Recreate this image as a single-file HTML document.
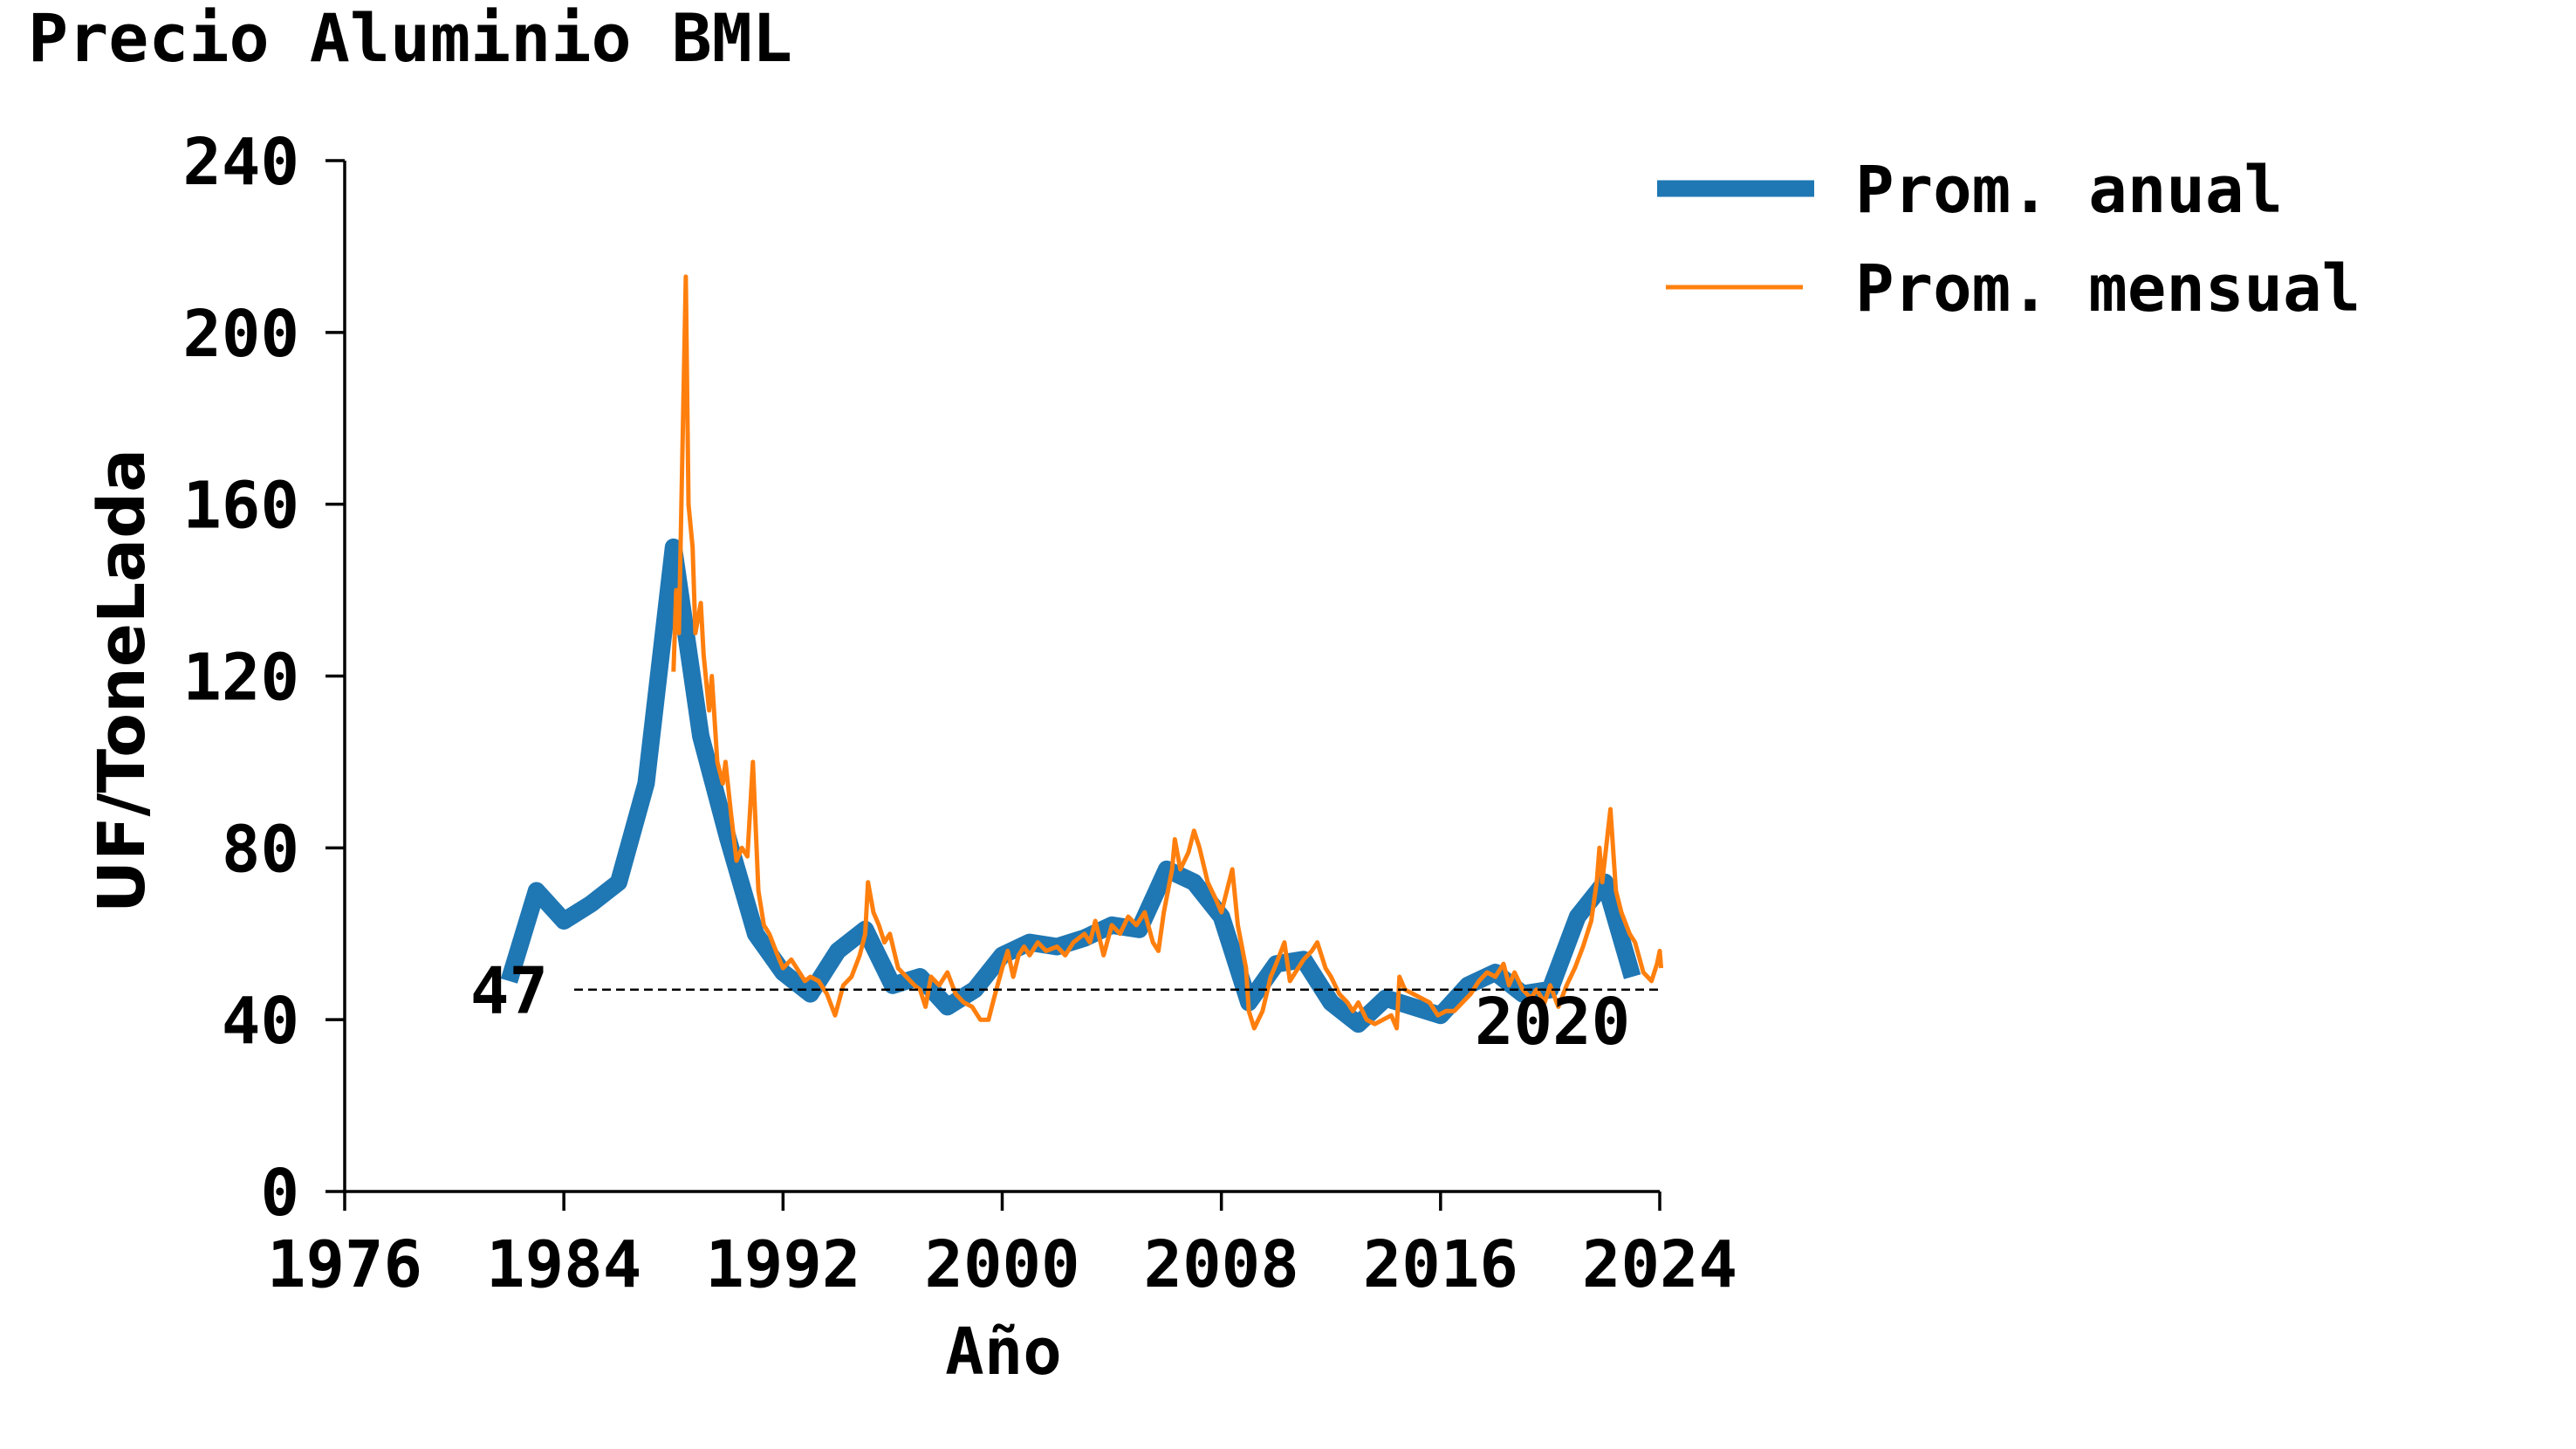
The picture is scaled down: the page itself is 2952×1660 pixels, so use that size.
<!DOCTYPE html>
<html><head><meta charset="utf-8"><style>
html,body{margin:0;padding:0;background:#fff;}
svg{display:block;}
text{font-family:"DejaVu Sans Mono","Liberation Mono",monospace;font-weight:bold;fill:#000;}
</style></head><body>
<svg id="chart" width="2952" height="1660" viewBox="0 0 2952 1660" xmlns="http://www.w3.org/2000/svg">
<text x="32" y="70" font-size="76" textLength="876" lengthAdjust="spacingAndGlyphs">Precio Aluminio BML</text>
<g id="axes"></g>
<g id="series"></g>
<text x="1150" y="1574" font-size="74" text-anchor="middle">Año</text>
<text transform="translate(165,780) rotate(-90)" font-size="74" text-anchor="middle" style="font-family:'DejaVu Sans','Liberation Sans',sans-serif">UF/ToneLada</text>
<g>
<line x1="1899" y1="216" x2="2079" y2="216" stroke="#1f77b4" stroke-width="19"/>
<text x="2126" y="243" font-size="74">Prom. anual</text>
<line x1="1909" y1="329" x2="2066" y2="329" stroke="#ff7f0e" stroke-width="5"/>
<text x="2126" y="356" font-size="74">Prom. mensual</text>
</g>
</svg>
<script>
const xTicks = [1976, 1984, 1992, 2000, 2008, 2016, 2024];
const yTicks = [0, 40, 80, 120, 160, 200, 240];
const annualYears = [1982,1983,1984,1985,1986,1987,1988,1989,1990,1991,1992,1993,1994,1995,1996,1997,1998,1999,2000,2001,2002,2003,2004,2005,2006,2007,2008,2009,2010,2011,2012,2013,2014,2015,2016,2017,2018,2019,2020,2021,2022,2023];
const annualValues = [49,70,63,67,72,95,150,106,82,60,51,46,56,61,48,50,43,47,55,58,57,59,62,61,75,72,64,44,53,54,44,39,45,43,41,48,51,46,47,64,72,50];
const monthlyYears = [1988.0,1988.1,1988.2,1988.45,1988.55,1988.7,1988.8,1989.0,1989.1,1989.3,1989.4,1989.6,1989.8,1989.9,1990.1,1990.3,1990.5,1990.7,1990.9,1991.1,1991.3,1991.5,1991.8,1992.0,1992.3,1992.5,1992.8,1993.0,1993.3,1993.6,1993.9,1994.2,1994.5,1994.8,1995.0,1995.1,1995.3,1995.5,1995.7,1995.9,1996.2,1996.5,1996.8,1997.0,1997.2,1997.4,1997.7,1998.0,1998.3,1998.6,1998.9,1999.2,1999.5,1999.7,2000.0,2000.2,2000.4,2000.6,2000.8,2001.0,2001.3,2001.6,2002.0,2002.3,2002.6,2003.0,2003.2,2003.4,2003.7,2004.0,2004.3,2004.6,2004.9,2005.2,2005.5,2005.7,2005.9,2006.2,2006.3,2006.5,2006.8,2007.0,2007.2,2007.5,2007.8,2008.0,2008.2,2008.4,2008.6,2008.9,2009.0,2009.2,2009.5,2009.8,2010.0,2010.3,2010.5,2010.8,2011.0,2011.3,2011.5,2011.8,2012.0,2012.3,2012.6,2012.8,2013.0,2013.3,2013.6,2013.9,2014.2,2014.4,2014.5,2014.7,2015.0,2015.3,2015.6,2015.9,2016.2,2016.5,2016.8,2017.1,2017.4,2017.7,2018.0,2018.3,2018.5,2018.7,2019.0,2019.3,2019.5,2019.8,2020.0,2020.3,2020.6,2020.9,2021.2,2021.5,2021.7,2021.8,2021.9,2022.2,2022.4,2022.6,2022.9,2023.1,2023.4,2023.7,2023.9,2024.0,2024.05];
const monthlyValues = [121,140,130,213,160,150,130,137,125,112,120,100,95,100,88,77,80,78,100,70,62,60,55,52,54,52,49,50,49,46,41,48,50,55,60,72,65,62,58,60,52,50,48,47,43,50,48,51,46,44,43,40,40,45,52,56,50,55,57,55,58,56,57,55,58,60,58,63,55,62,60,64,62,65,58,56,65,75,82,75,79,84,80,72,68,65,70,75,62,52,42,38,42,50,53,58,49,52,54,56,58,52,50,46,44,42,44,40,39,40,41,38,50,47,46,45,44,41,42,42,44,46,49,51,50,53,48,51,47,45,47,44,48,43,48,52,57,63,72,80,72,89,70,65,60,58,51,49,53,56,52];
const refValue = 47;
const refLabel = "2020";

const X0 = 395, X1 = 1902, Y0 = 1365, Y1 = 184;
const xMin = 1976, xMax = 2024, yMin = 0, yMax = 240;
function sx(v){ return X0 + (v - xMin) / (xMax - xMin) * (X1 - X0); }
function sy(v){ return Y0 - (v - yMin) / (yMax - yMin) * (Y0 - Y1); }
const NS = "http://www.w3.org/2000/svg";
function mk(tag, attrs, parent){
  const el = document.createElementNS(NS, tag);
  for (const k in attrs) el.setAttribute(k, attrs[k]);
  parent.appendChild(el);
  return el;
}
const axes = document.getElementById('axes');
const series = document.getElementById('series');

const yAxis = mk('line', {x1:X0, y1:Y1, x2:X0, y2:Y0+2, stroke:'#000', 'stroke-width':3.5}, axes);


const xAxis = mk('line', {x1:X0-2, y1:Y0, x2:X1, y2:Y0, stroke:'#000', 'stroke-width':3.5}, axes);



xTicks.forEach(t => {
  const tk = mk('line', {x1:sx(t), y1:Y0, x2:sx(t), y2:Y0+22, stroke:'#000', 'stroke-width':3.5}, axes);
  
  
  const lb = mk('text', {x:sx(t), y:1474, 'font-size':74, 'text-anchor':'middle'}, axes);
  lb.textContent = t;
  
  
});
yTicks.forEach(t => {
  const tk = mk('line', {x1:X0-22, y1:sy(t), x2:X0, y2:sy(t), stroke:'#000', 'stroke-width':3.5}, axes);
  
  
  const lb = mk('text', {x:X0-52, y:sy(t)+27, 'font-size':74, 'text-anchor':'end'}, axes);
  lb.textContent = t;
  
  
});

const ap = annualYears.map((y,i)=>sx(y).toFixed(1)+','+sy(annualValues[i]).toFixed(1)).join(' ');
const annual = mk('polyline', {points:ap, fill:'none', stroke:'#1f77b4', 'stroke-width':20, 'stroke-linejoin':'round'}, series);



const mp = monthlyYears.map((y,i)=>sx(y).toFixed(1)+','+sy(monthlyValues[i]).toFixed(1)).join(' ');
const monthly = mk('polyline', {points:mp, fill:'none', stroke:'#ff7f0e', 'stroke-width':5, 'stroke-linejoin':'round'}, series);



const ref = mk('line', {x1:658, y1:sy(refValue), x2:X1, y2:sy(refValue), stroke:'#000', 'stroke-width':2.5, 'stroke-dasharray':'10,6'}, series);


const refLb = mk('text', {x:628, y:sy(refValue)+27, 'font-size':74, 'text-anchor':'end'}, series);
refLb.textContent = refValue;


const yrLb = mk('text', {x:1690, y:1196, 'font-size':74}, series);
yrLb.textContent = refLabel;


</script>
</body></html>
